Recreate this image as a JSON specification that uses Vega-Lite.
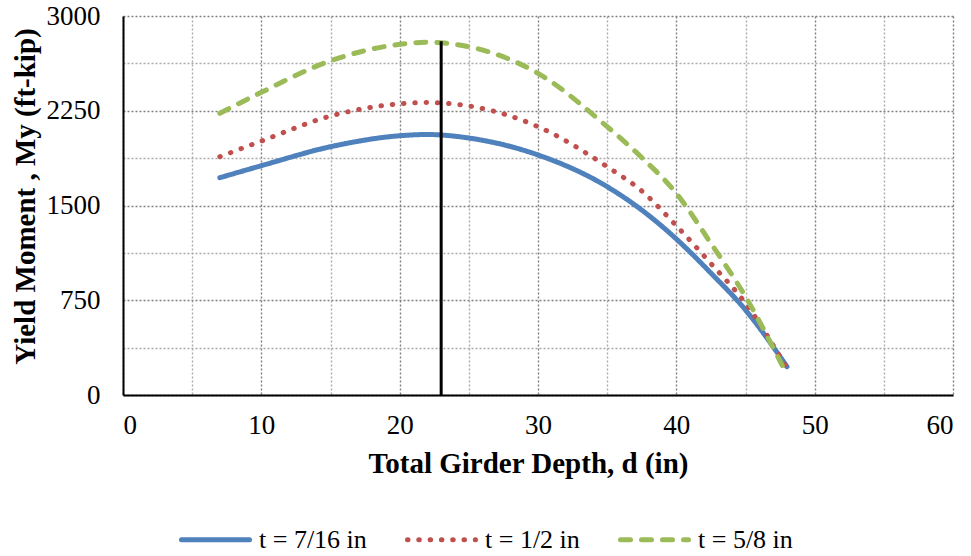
{
  "$schema": "https://vega.github.io/schema/vega-lite/v6.json",
  "width": 830,
  "height": 379,
  "autosize": {"type": "none"},
  "padding": {"left": 123, "top": 16, "right": 18, "bottom": 161},
  "background": "white",
  "config": {
    "view": {"stroke": null},
    "font": "Liberation Serif",
    "legend": {
      "orient": "none",
      "legendX": 56,
      "legendY": 487,
      "direction": "horizontal",
      "symbolType": "stroke",
      "symbolSize": 4624,
      "symbolStrokeWidth": 5,
      "labelFont": "Liberation Serif",
      "labelFontSize": 26,
      "labelColor": "black",
      "labelOffset": 7,
      "columnPadding": 30
    }
  },
  "datasets": {
    "curves": [
      {"series": "t = 7/16 in", "d": 7, "m": 1720},
      {"series": "t = 7/16 in", "d": 10, "m": 1815},
      {"series": "t = 7/16 in", "d": 15, "m": 1965},
      {"series": "t = 7/16 in", "d": 20, "m": 2052},
      {"series": "t = 7/16 in", "d": 22, "m": 2062},
      {"series": "t = 7/16 in", "d": 23, "m": 2058},
      {"series": "t = 7/16 in", "d": 25, "m": 2034},
      {"series": "t = 7/16 in", "d": 30, "m": 1900},
      {"series": "t = 7/16 in", "d": 35, "m": 1649},
      {"series": "t = 7/16 in", "d": 37.5, "m": 1464},
      {"series": "t = 7/16 in", "d": 40, "m": 1235},
      {"series": "t = 7/16 in", "d": 42.5, "m": 965},
      {"series": "t = 7/16 in", "d": 45, "m": 673},
      {"series": "t = 7/16 in", "d": 48, "m": 224},
      {"series": "t = 1/2 in", "d": 7, "m": 1886},
      {"series": "t = 1/2 in", "d": 10, "m": 2010},
      {"series": "t = 1/2 in", "d": 15, "m": 2208},
      {"series": "t = 1/2 in", "d": 20, "m": 2305},
      {"series": "t = 1/2 in", "d": 22, "m": 2315},
      {"series": "t = 1/2 in", "d": 23, "m": 2311},
      {"series": "t = 1/2 in", "d": 25, "m": 2288},
      {"series": "t = 1/2 in", "d": 30, "m": 2124},
      {"series": "t = 1/2 in", "d": 35, "m": 1807},
      {"series": "t = 1/2 in", "d": 37.5, "m": 1615},
      {"series": "t = 1/2 in", "d": 40, "m": 1340},
      {"series": "t = 1/2 in", "d": 42.5, "m": 1040},
      {"series": "t = 1/2 in", "d": 45, "m": 726},
      {"series": "t = 1/2 in", "d": 48, "m": 210},
      {"series": "t = 5/8 in", "d": 7, "m": 2230},
      {"series": "t = 5/8 in", "d": 10, "m": 2396},
      {"series": "t = 5/8 in", "d": 15, "m": 2645},
      {"series": "t = 5/8 in", "d": 20, "m": 2776},
      {"series": "t = 5/8 in", "d": 22, "m": 2792},
      {"series": "t = 5/8 in", "d": 23, "m": 2788},
      {"series": "t = 5/8 in", "d": 25, "m": 2757},
      {"series": "t = 5/8 in", "d": 30, "m": 2546},
      {"series": "t = 5/8 in", "d": 35, "m": 2124},
      {"series": "t = 5/8 in", "d": 37.5, "m": 1880},
      {"series": "t = 5/8 in", "d": 40, "m": 1596},
      {"series": "t = 5/8 in", "d": 42.5, "m": 1200},
      {"series": "t = 5/8 in", "d": 45, "m": 778},
      {"series": "t = 5/8 in", "d": 48, "m": 160}
    ],
    "marker": [
      {"d": 23, "m0": 0, "m1": 2800}
    ]
  },
  "layer": [
    {
      "data": {"name": "curves"},
      "mark": {"type": "line", "strokeWidth": 5, "strokeCap": "round", "interpolate": "monotone"},
      "encoding": {
        "x": {
          "field": "d",
          "type": "quantitative",
          "scale": {"domain": [0, 60], "nice": false, "zero": false},
          "axis": {
            "title": "Total Girder Depth, d (in)",
            "titleFont": "Liberation Serif",
            "titleFontSize": 29,
            "titleFontWeight": "bold",
            "titleColor": "black",
            "titlePadding": 11,
            "titleX": 405,
            "values": [0, 5, 10, 15, 20, 25, 30, 35, 40, 45, 50, 55, 60],
            "labelExpr": "datum.value % 10 === 0 ? datum.label : ''",
            "labelFont": "Liberation Serif",
            "labelFontSize": 27,
            "labelColor": "black",
            "labelPadding": 17,
            "ticks": false,
            "grid": true,
            "gridDash": [2, 2],
            "gridWidth": 1.4,
            "gridColor": {"condition": {"test": "datum.value % 10 === 0", "value": "#808080"}, "value": "#aaaaaa"},
            "domainColor": "black",
            "domainWidth": 2
          }
        },
        "y": {
          "field": "m",
          "type": "quantitative",
          "scale": {"domain": [0, 3000], "nice": false},
          "axis": {
            "title": "Yield Moment , My (ft-kip)",
            "titleFont": "Liberation Serif",
            "titleFontSize": 29,
            "titleFontWeight": "bold",
            "titleColor": "black",
            "titlePadding": 6,
            "titleY": 180,
            "values": [0, 375, 750, 1125, 1500, 1875, 2250, 2625, 3000],
            "format": "d",
            "labelExpr": "datum.value % 750 === 0 ? datum.label : ''",
            "labelFont": "Liberation Serif",
            "labelFontSize": 27,
            "labelColor": "black",
            "labelPadding": 23,
            "ticks": false,
            "grid": true,
            "gridDash": [2, 2],
            "gridWidth": 1.4,
            "gridColor": {"condition": {"test": "datum.value % 750 === 0", "value": "#808080"}, "value": "#aaaaaa"},
            "domainColor": "black",
            "domainWidth": 2
          }
        },
        "color": {
          "field": "series",
          "type": "nominal",
          "scale": {"domain": ["t = 7/16 in", "t = 1/2 in", "t = 5/8 in"], "range": ["#4F81BD", "#C0504D", "#9BBB59"]},
          "legend": {"title": null, "encode": {"symbols": {"update": {"strokeCap": {"value": "round"}}}}}
        },
        "strokeDash": {
          "field": "series",
          "type": "nominal",
          "scale": {"domain": ["t = 7/16 in", "t = 1/2 in", "t = 5/8 in"], "range": [[1, 0], [0.5, 10.8], [10, 11]]},
          "legend": {"title": null, "encode": {"symbols": {"update": {"strokeCap": {"value": "round"}}}}}
        }
      }
    },
    {
      "data": {"name": "marker"},
      "mark": {"type": "rule", "color": "black", "strokeWidth": 3},
      "encoding": {
        "x": {"field": "d", "type": "quantitative"},
        "y": {"field": "m0", "type": "quantitative"},
        "y2": {"field": "m1"}
      }
    }
  ]
}
